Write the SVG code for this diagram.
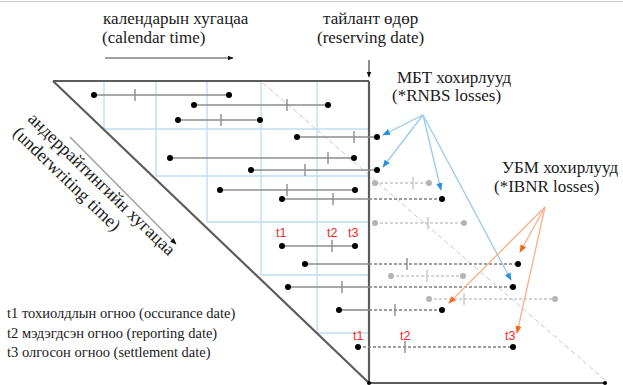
<svg xmlns="http://www.w3.org/2000/svg" width="623" height="385" viewBox="0 0 623 385">
  <style>
    .serif { font-family: "Liberation Serif", "Times New Roman", serif; fill: #1a1a1a; }
    .head { font-size: 17px; }
    .tilt { font-size: 18px; }
    .legend { font-size: 14.5px; }
    .red { font-family: "Liberation Sans", Arial, sans-serif; font-size: 12.5px; fill: #f02a24; }
    .frame { stroke: #5c5c5c; stroke-width: 2.2; fill: none; }
    .grid { stroke: #bcdcf2; stroke-width: 1.3; fill: none; }
    .claim { stroke: #8c8c8c; stroke-width: 1.6; }
    .future { stroke: #808080; stroke-width: 1.6; stroke-dasharray: 3 2; }
    .ghost { stroke: #c6c6c6; stroke-width: 1.4; stroke-dasharray: 3 2; }
    .tick { stroke: #8c8c8c; stroke-width: 1.4; }
    .gtick { stroke: #c6c6c6; stroke-width: 1.4; }
    .dot { fill: #000; }
    .gdot { fill: #b4b4b4; }
    .rnbs { stroke: #98cbec; stroke-width: 1.3; fill: none; }
    .ibnr { stroke: #f9b088; stroke-width: 1.3; fill: none; }
    .axis { stroke: #444; stroke-width: 1.2; fill: none; }
  </style>
  <defs>
    <marker id="blk" viewBox="0 0 10 10" refX="9" refY="5" markerWidth="5" markerHeight="5" orient="auto">
      <path d="M0,1 L10,5 L0,9 z" fill="#111"/>
    </marker>
    <marker id="blu" viewBox="0 0 10 10" refX="9" refY="5" markerWidth="6" markerHeight="6" orient="auto">
      <path d="M0,1 L10,5 L0,9 z" fill="#2a8fdc"/>
    </marker>
    <marker id="org" viewBox="0 0 10 10" refX="9" refY="5" markerWidth="6" markerHeight="6" orient="auto">
      <path d="M0,1 L10,5 L0,9 z" fill="#f26a1b"/>
    </marker>
  </defs>

  <rect width="623" height="385" fill="#fff"/>
  <line x1="0" y1="1.5" x2="623" y2="1.5" stroke="#c8c8c8" stroke-width="1"/>

  <!-- headings -->
  <g id="calendar-label">
    <text class="serif head" x="103" y="24">календарын хугацаа</text>
    <text class="serif head" x="102" y="43">(calendar time)</text>
  </g>
  <g id="reserving-label">
    <text class="serif head" x="323" y="24">тайлант өдөр</text>
    <text class="serif head" x="317" y="43">(reserving date)</text>
  </g>
  <g id="rnbs-label">
    <text class="serif head" x="397" y="83">МБТ хохирлууд</text>
    <text class="serif head" x="392" y="101">(*RNBS losses)</text>
  </g>
  <g id="ibnr-label">
    <text class="serif head" x="502" y="173">УБМ хохирлууд</text>
    <text class="serif head" x="494" y="192">(*IBNR losses)</text>
  </g>
  <g id="underwriting-label">
    <text class="serif tilt" transform="translate(27,120) rotate(44)">андеррайтингийн хугацаа</text>
    <text class="serif tilt" transform="translate(12,134) rotate(44)">(underwriting time)</text>
  </g>
  <g id="legend">
    <text class="serif legend" x="7" y="318">t1 тохиолдлын огноо (occurance date)</text>
    <text class="serif legend" x="7" y="338">t2 мэдэгдсэн огноо (reporting date)</text>
    <text class="serif legend" x="7" y="357">t3 олгосон огноо (settlement date)</text>
  </g>

  <!-- period grid (staircase of cells) -->
  <g id="grid" class="grid">
    <line x1="104" y1="81" x2="104" y2="129"/>
    <line x1="156" y1="81" x2="156" y2="176"/>
    <line x1="207" y1="81" x2="207" y2="222"/>
    <line x1="261" y1="81" x2="261" y2="275"/>
    <line x1="317" y1="81" x2="317" y2="333"/>
    <line x1="104" y1="129" x2="369" y2="129"/>
    <line x1="156" y1="176" x2="369" y2="176"/>
    <line x1="207" y1="222" x2="369" y2="222"/>
    <line x1="261" y1="275" x2="369" y2="275"/>
    <line x1="317" y1="333" x2="369" y2="333"/>
  </g>

  <!-- run-off diagonal -->
  <line x1="263" y1="83" x2="605" y2="380" stroke="#c8c8c8" stroke-width="1" stroke-dasharray="5 3"/>

  <!-- triangle frame -->
  <g id="frame" class="frame">
    <line x1="53" y1="81" x2="369" y2="81"/>
    <line x1="53" y1="81" x2="369" y2="383"/>
    <line x1="369" y1="81" x2="369" y2="383"/>
    <line x1="369" y1="383" x2="605" y2="383"/>
  </g>
  <circle cx="369" cy="383" r="2" class="dot"/>
  <circle cx="605" cy="383" r="2" class="dot"/>

  <!-- claims: reported / settled before reserving date -->
  <g id="claim-a"><line class="claim" x1="94" y1="95" x2="229" y2="95"/><line class="tick" x1="135" y1="89" x2="135" y2="101"/><circle class="dot" cx="94" cy="95" r="3"/><circle class="dot" cx="229" cy="95" r="3"/></g>
  <g id="claim-b"><line class="claim" x1="194" y1="105" x2="328" y2="105"/><line class="tick" x1="287" y1="99" x2="287" y2="111"/><circle class="dot" cx="194" cy="105" r="3"/><circle class="dot" cx="328" cy="105" r="3"/></g>
  <g id="claim-c"><line class="claim" x1="178" y1="120" x2="260" y2="120"/><line class="tick" x1="221" y1="114" x2="221" y2="126"/><circle class="dot" cx="178" cy="120" r="3"/><circle class="dot" cx="260" cy="120" r="3"/></g>
  <g id="claim-d"><line class="claim" x1="297" y1="137" x2="377" y2="137"/><line class="tick" x1="354" y1="131" x2="354" y2="143"/><circle class="dot" cx="297" cy="137" r="3"/><circle class="dot" cx="377" cy="137" r="3"/></g>
  <g id="claim-e"><line class="claim" x1="170" y1="158" x2="354" y2="158"/><line class="tick" x1="328" y1="152" x2="328" y2="164"/><circle class="dot" cx="170" cy="158" r="3"/><circle class="dot" cx="354" cy="158" r="3"/></g>
  <g id="claim-f"><line class="claim" x1="251" y1="170" x2="377" y2="170"/><line class="tick" x1="305" y1="164" x2="305" y2="176"/><circle class="dot" cx="251" cy="170" r="3"/><circle class="dot" cx="377" cy="170" r="3"/></g>
  <g id="claim-g"><line class="claim" x1="220" y1="190" x2="355" y2="190"/><line class="tick" x1="287" y1="184" x2="287" y2="196"/><circle class="dot" cx="220" cy="190" r="3"/><circle class="dot" cx="355" cy="190" r="3"/></g>
  <g id="claim-h"><line class="claim" x1="282" y1="199" x2="369" y2="199"/><line class="future" x1="369" y1="199" x2="442" y2="199"/><line class="tick" x1="333" y1="193" x2="333" y2="205"/><circle class="dot" cx="282" cy="199" r="3"/><circle class="dot" cx="442" cy="199" r="3"/></g>
  <g id="claim-i"><line class="claim" x1="282" y1="246" x2="355" y2="246"/><line class="tick" x1="332" y1="240" x2="332" y2="252"/><circle class="dot" cx="282" cy="246" r="3"/><circle class="dot" cx="355" cy="246" r="3"/></g>
  <g id="claim-j"><line class="claim" x1="305" y1="264" x2="369" y2="264"/><line class="future" x1="369" y1="264" x2="518" y2="264"/><line class="tick" x1="407" y1="258" x2="407" y2="270"/><circle class="dot" cx="305" cy="264" r="3"/><circle class="dot" cx="518" cy="264" r="3"/></g>
  <g id="claim-k"><line class="claim" x1="288" y1="287" x2="369" y2="287"/><line class="future" x1="369" y1="287" x2="513" y2="287"/><line class="tick" x1="342" y1="281" x2="342" y2="293"/><circle class="dot" cx="288" cy="287" r="3"/><circle class="dot" cx="513" cy="287" r="3"/></g>
  <g id="claim-l"><line class="claim" x1="339" y1="310" x2="369" y2="310"/><line class="future" x1="369" y1="310" x2="442" y2="310"/><line class="tick" x1="395" y1="304" x2="395" y2="316"/><circle class="dot" cx="339" cy="310" r="3"/><circle class="dot" cx="442" cy="310" r="3"/></g>
  <g id="claim-m"><line class="future" x1="358" y1="347" x2="513" y2="347"/><line class="tick" x1="405" y1="341" x2="405" y2="353"/><circle class="dot" cx="358" cy="347" r="3"/><circle class="dot" cx="513" cy="347" r="3"/></g>

  <!-- claims occurring after reserving date -->
  <g id="ghost-1"><line class="ghost" x1="375" y1="183" x2="429" y2="183"/><line class="gtick" x1="413" y1="177" x2="413" y2="189"/><circle class="gdot" cx="375" cy="183" r="3"/><circle class="gdot" cx="429" cy="183" r="3"/></g>
  <g id="ghost-2"><line class="ghost" x1="375" y1="223" x2="464" y2="223"/><line class="gtick" x1="428" y1="217" x2="428" y2="229"/><circle class="gdot" cx="375" cy="223" r="3"/><circle class="gdot" cx="464" cy="223" r="3"/></g>
  <g id="ghost-3"><line class="ghost" x1="391" y1="276" x2="463" y2="276"/><line class="gtick" x1="427" y1="270" x2="427" y2="282"/><circle class="gdot" cx="391" cy="276" r="3"/><circle class="gdot" cx="463" cy="276" r="3"/></g>
  <g id="ghost-4"><line class="ghost" x1="429" y1="299" x2="555" y2="299"/><line class="gtick" x1="464" y1="293" x2="464" y2="305"/><circle class="gdot" cx="429" cy="299" r="3"/><circle class="gdot" cx="555" cy="299" r="3"/></g>

  <!-- date markers -->
  <g id="dates-1">
    <text class="red" x="276" y="237">t1</text>
    <text class="red" x="327" y="237">t2</text>
    <text class="red" x="348" y="237">t3</text>
  </g>
  <g id="dates-2">
    <text class="red" x="353" y="340">t1</text>
    <text class="red" x="400" y="340">t2</text>
    <text class="red" x="505" y="340">t3</text>
  </g>

  <!-- connectors -->
  <g id="connectors">
    <line class="axis" x1="105" y1="58" x2="233" y2="58" marker-end="url(#blk)"/>
    <line class="axis" x1="369" y1="60" x2="369" y2="77" marker-end="url(#blk)"/>
    <line x1="70" y1="137" x2="176" y2="244" stroke="#9a9a9a" stroke-width="1.3" marker-end="url(#blk)"/>
    <line class="rnbs" x1="423" y1="115" x2="383" y2="135" marker-end="url(#blu)"/>
    <line class="rnbs" x1="423" y1="115" x2="383" y2="167" marker-end="url(#blu)"/>
    <line class="rnbs" x1="423" y1="115" x2="441" y2="190" marker-end="url(#blu)"/>
    <line class="rnbs" x1="423" y1="115" x2="511" y2="280" marker-end="url(#blu)"/>
    <line class="ibnr" x1="545" y1="207" x2="520" y2="252" marker-end="url(#org)"/>
    <line class="ibnr" x1="545" y1="207" x2="449" y2="303" marker-end="url(#org)"/>
    <line class="ibnr" x1="545" y1="207" x2="517" y2="333" marker-end="url(#org)"/>
  </g>
</svg>
